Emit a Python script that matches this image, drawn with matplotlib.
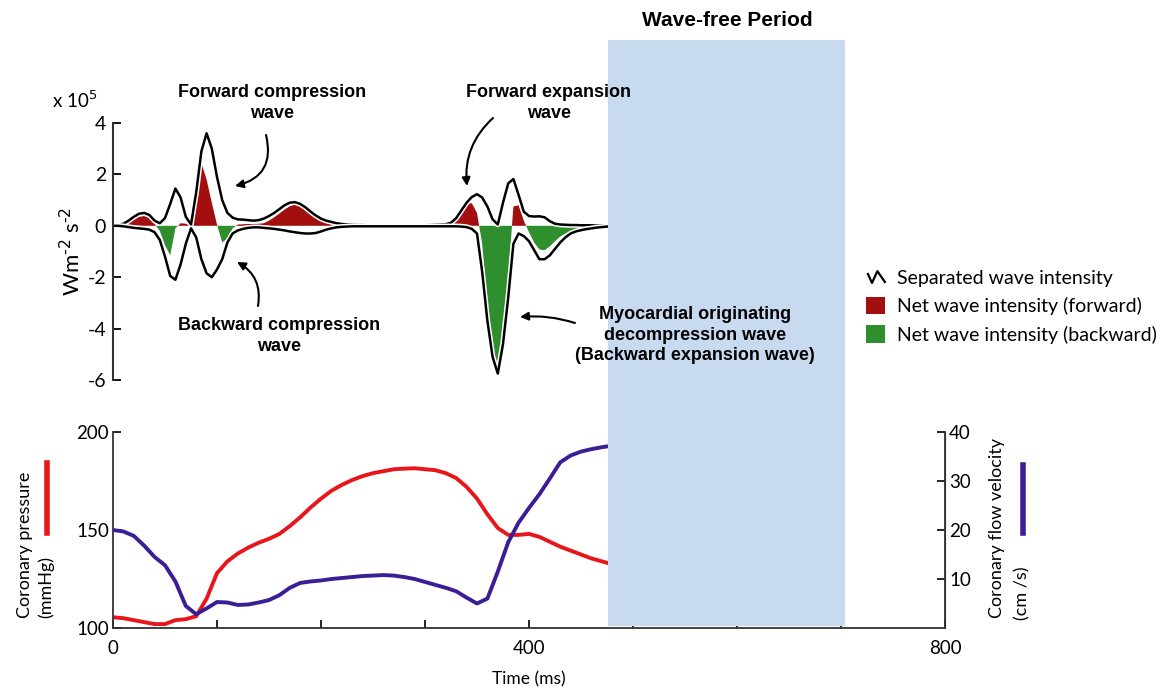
import numpy as np
import matplotlib.pyplot as plt
from matplotlib.patches import Rectangle, Patch, FancyArrowPatch
from matplotlib.lines import Line2D
from matplotlib.path import Path
from matplotlib.transforms import blended_transform_factory
import matplotlib.patheffects as pe

# ---- datos del panel superior (x 10^5 W m^-2 s^-2), cada 5 ms ----
t_onda = np.arange(0, 485, 5)
onda_adelante = [0, 0.02, 0.08, 0.2, 0.35, 0.47, 0.5, 0.42, 0.2, 0.1,
                 0.3, 0.85, 1.45, 1.1, 0.35, 0.05, 1.3, 2.9, 3.6, 3.0,
                 1.9, 1.0, 0.5, 0.32, 0.25, 0.24, 0.22, 0.2, 0.22, 0.28,
                 0.38, 0.5, 0.65, 0.8, 0.9, 0.92, 0.85, 0.72, 0.55, 0.4,
                 0.28, 0.2, 0.15, 0.1, 0.07, 0.05, 0.04, 0.03, 0.03, 0.02,
                 0.02, 0.02, 0.02, 0.02, 0.02, 0.02, 0.02, 0.02, 0.02, 0.02,
                 0.02, 0.03, 0.04, 0.05, 0.06, 0.12, 0.3, 0.6, 0.9, 1.12,
                 1.23, 1.1, 0.75, 0.25, 0.05, 0.9, 1.65, 1.82, 1.2, 0.55,
                 0.38, 0.36, 0.37, 0.33, 0.18, 0.08, 0.05, 0.04, 0.03, 0.03,
                 0.02, 0.02, 0.02, 0.01, 0.01, 0.01, 0.0]
onda_atras = [0, 0, -0.02, -0.05, -0.08, -0.1, -0.12, -0.15, -0.25, -0.55,
              -1.2, -1.95, -2.1, -1.5, -0.7, -0.1, -0.45, -1.3, -1.85, -2.0,
              -1.7, -1.3, -0.65, -0.3, -0.18, -0.12, -0.08, -0.06, -0.06, -0.08,
              -0.1, -0.12, -0.15, -0.18, -0.22, -0.25, -0.28, -0.3, -0.3, -0.28,
              -0.22, -0.15, -0.1, -0.06, -0.04, -0.03, -0.02, -0.02, -0.02, -0.02,
              -0.02, -0.02, -0.02, -0.02, -0.02, -0.02, -0.02, -0.02, -0.02, -0.02,
              -0.02, -0.02, -0.02, -0.02, -0.02, -0.02, -0.02, -0.03, -0.05, -0.12,
              -0.3, -1.8, -3.7, -5.1, -5.75, -4.6, -2.8, -0.7, -0.3, -0.4,
              -0.6, -0.95, -1.3, -1.3, -1.15, -0.9, -0.65, -0.45, -0.3, -0.22,
              -0.17, -0.13, -0.1, -0.07, -0.05, -0.03, -0.02]
onda_neta = [0, 0, 0.03, 0.12, 0.25, 0.35, 0.38, 0.3, 0.08, -0.2,
             -0.75, -1.15, -0.1, 0.1, 0.08, 0.0, 1.2, 2.45, 1.8, 0.9,
             0.05, -0.65, -0.5, -0.1, 0.05, 0.06, 0.07, 0.07, 0.08, 0.1,
             0.2, 0.33, 0.48, 0.63, 0.76, 0.84, 0.82, 0.68, 0.5, 0.33,
             0.2, 0.13, 0.08, 0.05, 0.03, 0.02, 0.01, 0.01, 0.01, 0.01,
             0, 0, 0, 0, 0, 0, 0, 0, 0, 0,
             0, 0, 0.01, 0.02, 0.04, 0.1, 0.3, 0.6, 0.85, 0.88,
             0.5, -0.7, -3.0, -4.8, -5.6, -4.2, -2.0, 0.75, 0.8, 0.2,
             -0.25, -0.65, -0.92, -0.95, -0.8, -0.6, -0.42, -0.3, -0.22, -0.17,
             -0.13, -0.1, -0.08, -0.06, -0.04, -0.03, -0.02]

# ---- datos del panel inferior, cada 10 ms ----
t_flujo = np.arange(0, 490, 10)
presion = [105.5, 105, 104, 103, 102, 102, 104, 104.5, 106, 115,
           128, 134, 138, 141, 143.5, 145.5, 148, 152, 156.5, 161.5,
           166, 170, 173, 175.5, 177.5, 179, 180, 181, 181.3, 181.5,
           181, 180.5, 179, 176.5, 172, 166, 158, 151, 147.5, 147.5,
           148, 146.5, 144, 141.5, 139.5, 137.5, 135.5, 134, 132.5]
velocidad = [20, 19.7, 18.8, 16.8, 14.5, 12.8, 9.5, 4.5, 2.8, 4,
             5.3, 5.2, 4.7, 4.8, 5.2, 5.7, 6.7, 8.2, 9.2, 9.5,
             9.7, 10.0, 10.2, 10.4, 10.6, 10.7, 10.8, 10.7, 10.4, 10.0,
             9.4, 8.8, 8.2, 7.5, 6.2, 5.0, 6.0, 11.5, 17.5, 21.5,
             24.5, 27.3, 30.5, 33.8, 35.2, 36, 36.5, 36.9, 37.2]

wfp_inicio, wfp_fin = 476, 704  # periodo libre de ondas (ms)

ROJO_LINEA = '#e8161b'
MORADO = '#3b1e96'
ROJO_RELLENO = '#a30f0f'
VERDE_RELLENO = '#2f8f2f'
AZUL = '#c8daf0'

plt.rcParams['font.family'] = ['Lato', 'DejaVu Sans']
plt.rcParams['axes.unicode_minus'] = False
W, H = 1162, 687
fig = plt.figure(figsize=(W / 100, H / 100), dpi=100)

def fx(px):
    return px / W

def fy(py):
    return 1 - py / H

# ---------------- panel superior ----------------
ax1 = fig.add_axes([fx(113), fy(380), fx(832), 257 / H])
ax1.set_xlim(0, 800)
ax1.set_ylim(-6, 4)
neta = np.array(onda_neta)
ax1.fill_between(t_onda, neta, 0, where=neta > 0, interpolate=True,
                 color=ROJO_RELLENO, lw=0)
ax1.fill_between(t_onda, neta, 0, where=neta < 0, interpolate=True,
                 color=VERDE_RELLENO, lw=0)
halo = [pe.Stroke(linewidth=4, foreground='white'), pe.Normal()]
ax1.plot(t_onda, onda_adelante, color='black', lw=1.8, path_effects=halo)
ax1.plot(t_onda, onda_atras, color='black', lw=1.8, path_effects=halo)
for s in ['top', 'right', 'bottom']:
    ax1.spines[s].set_visible(False)
ax1.spines['left'].set_linewidth(1.5)
ax1.spines['left'].set_color('#333333')
ax1.set_xticks([])
ax1.set_yticks([-6, -4, -2, 0, 2, 4])
ax1.tick_params(axis='y', direction='in', length=6, width=1.3, labelsize=14, pad=5)
ax1.set_ylabel(r'Wm$^{\text{-}2}$ s$^{\text{-}2}$', fontsize=16, labelpad=2)
ax1.patch.set_alpha(0)
fig.text(fx(52), fy(100), 'x 10$^5$', fontsize=13.5, ha='left', va='center')

# ---------------- panel inferior ----------------
ax2 = fig.add_axes([fx(113), fy(628), fx(832), 196 / H])
ax2.set_xlim(0, 800)
ax2.set_ylim(100, 200)
ax2.plot(t_flujo, presion, color=ROJO_LINEA, lw=2.8)
ax3 = ax2.twinx()
ax3.set_ylim(0, 40)
ax3.plot(t_flujo, velocidad, color=MORADO, lw=2.8)
ax2.spines['top'].set_visible(False)
ax3.spines['top'].set_visible(False)
for s in ['left', 'bottom']:
    ax2.spines[s].set_linewidth(1.3)
    ax2.spines[s].set_color('#333333')
ax3.spines['right'].set_linewidth(1.3)
ax3.spines['right'].set_color('#333333')
ax3.spines['left'].set_visible(False)
ax3.spines['bottom'].set_visible(False)
ax2.set_xticks(range(0, 801, 100))
ax2.set_xticklabels(['0', '', '', '', '400', '', '', '', '800'])
ax2.set_yticks([100, 150, 200])
ax2.tick_params(axis='x', direction='in', length=6, width=1.2, labelsize=13.5, pad=9)
ax2.tick_params(axis='y', direction='in', length=6, width=1.2, labelsize=13.5, pad=3)
ax3.set_yticks([10, 20, 30, 40])
ax3.tick_params(axis='y', direction='in', length=6, width=1.2, labelsize=13.5, pad=3)
ax2.set_xlabel('Time (ms)', fontsize=12.5, labelpad=10)

# etiquetas de ejes con su linea de color
fig.text(fx(25), fy(545), 'Coronary pressure', rotation=90, fontsize=13,
         ha='center', va='center')
fig.text(fx(46), fy(587), '(mmHg)', rotation=90, fontsize=13, ha='center', va='center')
fig.add_artist(Line2D([fx(47), fx(47)], [fy(463), fy(533)], color=ROJO_LINEA,
                      lw=4, transform=fig.transFigure))
fig.text(fx(997), fy(528), 'Coronary flow velocity', rotation=90, fontsize=13,
         ha='center', va='center')
fig.text(fx(1022), fy(593), '(cm /s)', rotation=90, fontsize=13, ha='center', va='center')
fig.add_artist(Line2D([fx(1023), fx(1023)], [fy(465), fy(533)], color=MORADO,
                      lw=4, transform=fig.transFigure))

# ---------------- periodo libre de ondas ----------------
trans = blended_transform_factory(ax2.transData, fig.transFigure)
fig.add_artist(Rectangle((wfp_inicio, fy(626)), wfp_fin - wfp_inicio, fy(40) - fy(626),
                         transform=trans, facecolor=AZUL, edgecolor='none', zorder=5))
fig.text(fx(727), fy(20), 'Wave-free Period', fontsize=15, fontweight='bold',
         family='Liberation Sans', ha='center', va='center', zorder=6)

# ---------------- anotaciones ----------------
txt = dict(fontsize=13, fontweight='bold', family='Liberation Sans',
           ha='center', va='center', linespacing=1.3, zorder=6)
fig.text(fx(272), fy(103), 'Forward compression\nwave', **txt)
fig.text(fx(549), fy(103), 'Forward expansion\nwave', **txt)
fig.text(fx(279), fy(336), 'Backward compression\nwave', **txt)
fig.text(fx(695), fy(335), 'Myocardial originating\ndecompression wave\n(Backward expansion wave)',
         **txt)

flecha = dict(arrowstyle='-|>', color='black', lw=1.5, mutation_scale=12,
              shrinkA=0, shrinkB=0, transform=fig.transFigure, zorder=6)
fig.add_artist(FancyArrowPatch((fx(266), fy(135)), (fx(235), fy(186)),
                               connectionstyle='arc3,rad=-0.5', **flecha))
fig.add_artist(FancyArrowPatch((fx(258), fy(306)), (fx(237), fy(262)),
                               connectionstyle='arc3,rad=0.35', **flecha))
fig.add_artist(FancyArrowPatch((fx(493), fy(118)), (fx(467), fy(186)),
                               connectionstyle='arc3,rad=0.25', **flecha))
fig.add_artist(FancyArrowPatch((fx(575), fy(323)), (fx(520), fy(317)),
                               connectionstyle='arc3,rad=0.1', **flecha))

# ---------------- leyenda ----------------
simbolo = Path([(-1.0, 0.5), (-0.5, -0.6), (0.1, 0.7), (1.0, -0.6)])
manejadores = [Line2D([], [], color='black', marker=simbolo, markersize=13,
                      markerfacecolor='none', markeredgewidth=1.6, linestyle='None'),
               Patch(facecolor=ROJO_RELLENO),
               Patch(facecolor=VERDE_RELLENO)]
etiquetas = ['Separated wave intensity', 'Net wave intensity (forward)',
             'Net wave intensity (backward)']
fig.legend(manejadores, etiquetas, loc='upper left', bbox_to_anchor=(fx(866), fy(269)),
           frameon=False, fontsize=14, handlelength=1.0, handleheight=1.0,
           handletextpad=0.6, labelspacing=0.5, borderpad=0, borderaxespad=0)

plt.savefig('out.png', dpi=100)
